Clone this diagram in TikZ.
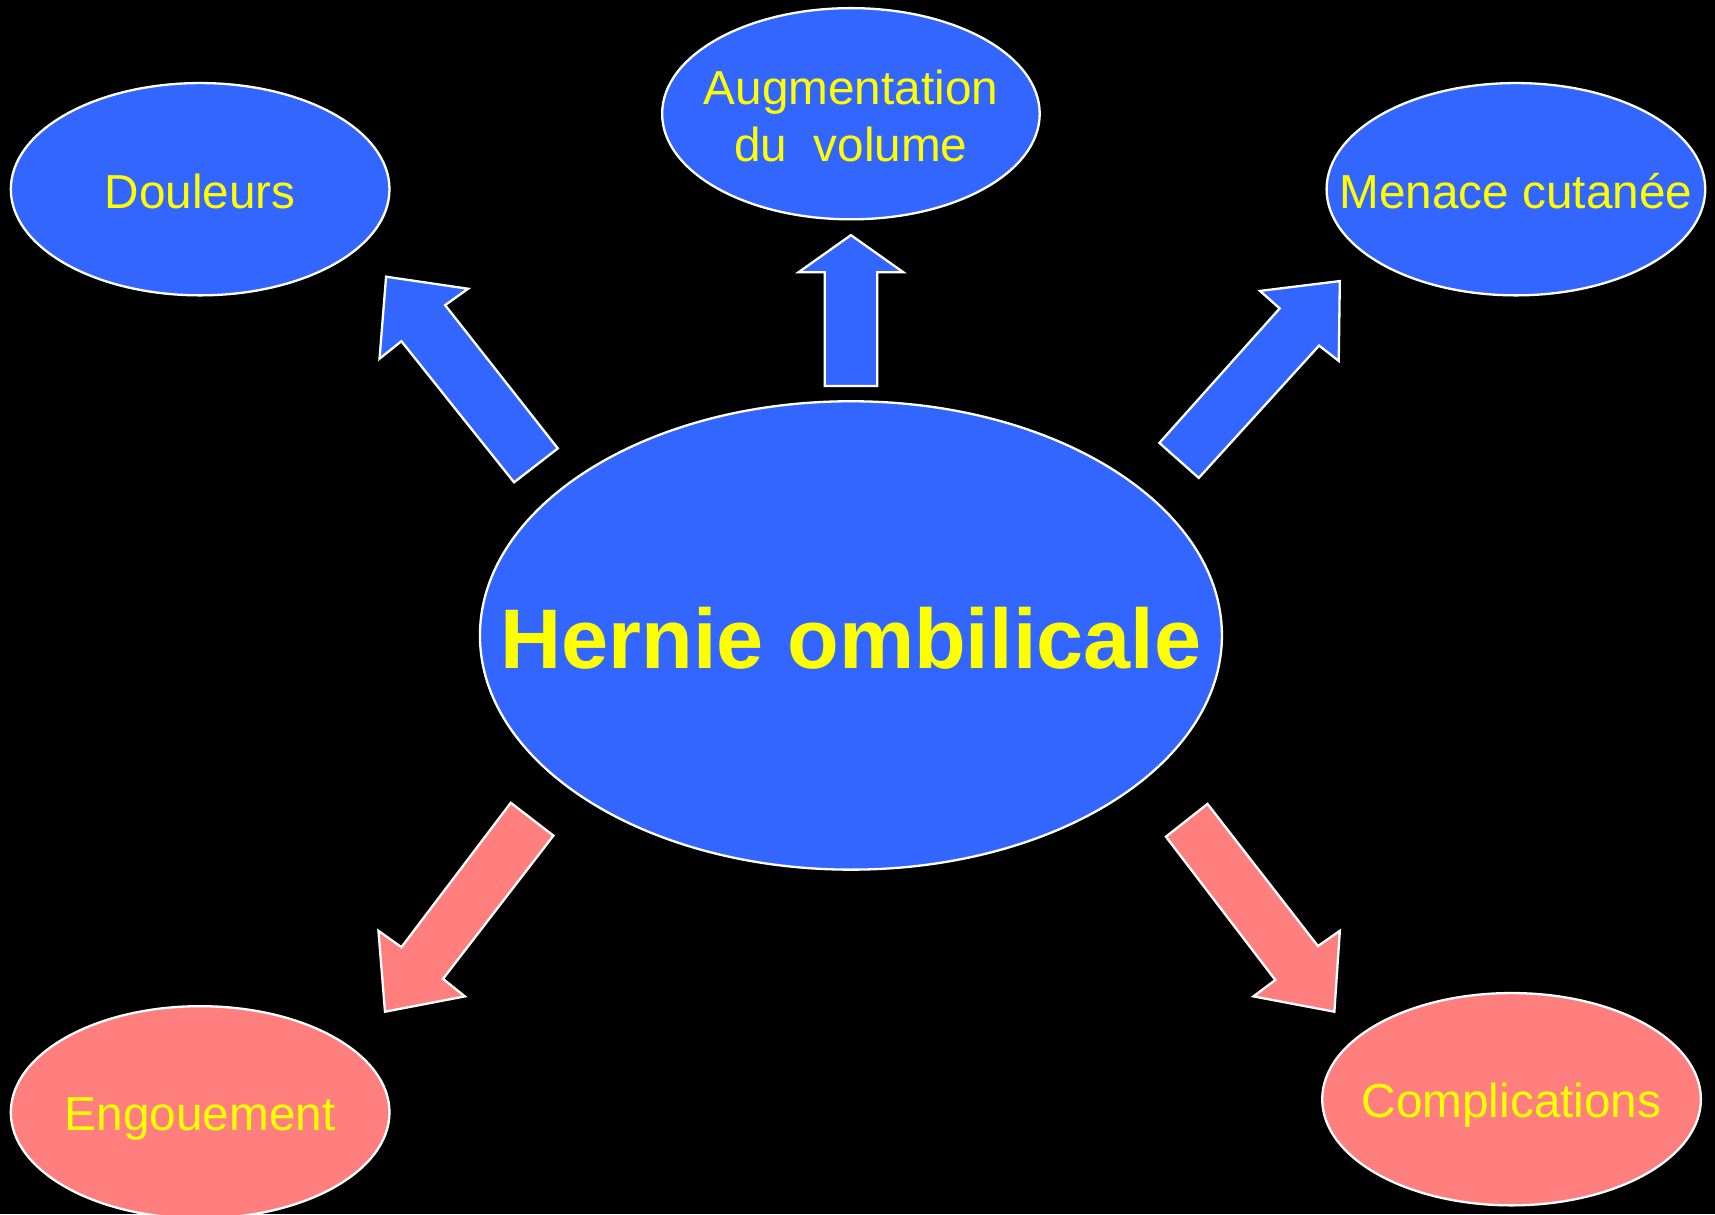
\documentclass[tikz,border=0pt]{standalone}
\usepackage{fontspec}
\setmainfont{Liberation Sans}
\usetikzlibrary{shapes.geometric}
\definecolor{nodeblue}{HTML}{3366FF}
\definecolor{nodepink}{HTML}{FF7F7F}
\definecolor{txtyellow}{HTML}{FFFF00}
\begin{document}
\begin{tikzpicture}[x=0.01cm,y=-0.01cm,
  bubble/.style={ellipse, draw=white, line width=0.6pt, inner sep=0pt,
    minimum width=3.46cm, minimum height=1.94cm},
  bluebubble/.style={bubble, fill=nodeblue},
  pinkbubble/.style={bubble, fill=nodepink},
  lbl/.style={text=txtyellow, inner sep=0pt,
    font=\fontsize{12.4}{14.8}\selectfont, align=center},
  biglbl/.style={lbl, font=\fontsize{22}{26}\selectfont\bfseries},
  blockarrow/.style={draw=white, line width=0.6pt, line join=miter},
]
\useasboundingbox (0,0) rectangle (1568,1110);
\clip (0,0) rectangle (1568,1110);
\fill[black] (0,0) rectangle (1568,1110);

% block arrows
\filldraw[blockarrow, fill=nodeblue] (470,441) -- (510,410) -- (407,279) -- (428,264) -- (353,253) -- (347,328) -- (367,312) -- cycle;
\filldraw[blockarrow, fill=nodeblue] (754,353) -- (802,353) -- (802,249) -- (826,249) -- (778,215) -- (730,249) -- (754,249) -- cycle;
\filldraw[blockarrow, fill=nodeblue] (1060,405) -- (1096,437) -- (1206,316) -- (1224,330) -- (1225,257) -- (1152,266) -- (1170,282) -- cycle;
\filldraw[blockarrow, fill=nodepink] (467,734) -- (506,764) -- (405,895) -- (425,911) -- (352,925) -- (346,851) -- (367,866) -- cycle;
\filldraw[blockarrow, fill=nodepink] (1066,765) -- (1104,735) -- (1205,865) -- (1225,851) -- (1220,925) -- (1146,911) -- (1166,896) -- cycle;

% nodes
\node[bluebubble] (douleurs) at (183,173) {};
\node[bluebubble, minimum width=3.45cm, minimum height=1.93cm] (augment) at (778,104) {};
\node[bluebubble] (menace) at (1386,173) {};
\node[bluebubble, minimum width=6.78cm, minimum height=4.28cm] (hernie) at (778,581) {};
\node[pinkbubble] (engouement) at (183,1017) {};
\node[pinkbubble] (complications) at (1382,1005) {};

% labels
\node[lbl] (tdouleurs) at (183,175) {Douleurs};
\node[lbl] (taugment) at (778,106) {Augmentation\\du\ \ volume};
\node[lbl] (tmenace) at (1386,175) {Menace cutanée};
\node[biglbl] (thernie) at (778,584) {Hernie ombilicale};
\node[lbl] (tengouement) at (183,1023) {Engouement};
\node[lbl] (tcomplications) at (1382,1010) {Complications};
\end{tikzpicture}
\end{document}
